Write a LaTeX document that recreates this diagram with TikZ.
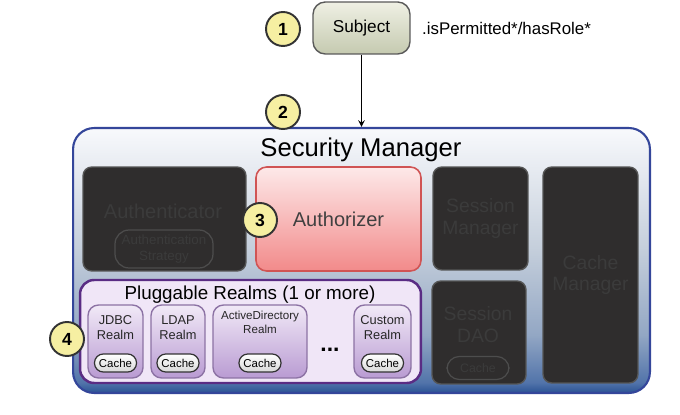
\documentclass[tikz,border=0pt]{standalone}
\usepackage{fontspec}
\setmainfont{Liberation Sans}
\usetikzlibrary{arrows}

\definecolor{numfill}{HTML}{F6EFA2}
\definecolor{smborder}{HTML}{34469A}
\definecolor{subjtop}{HTML}{EFF0E4}
\definecolor{subjbot}{HTML}{C5CAB0}
\definecolor{darkfill}{HTML}{2F2D2D}
\definecolor{darkline}{HTML}{555555}
\definecolor{darktext}{HTML}{3B3B3B}
\definecolor{pinktop}{HTML}{FDE9E9}
\definecolor{pinkbot}{HTML}{F28A8A}
\definecolor{pinkline}{HTML}{D05454}
\definecolor{panelfill}{HTML}{F0E6F7}
\definecolor{panelline}{HTML}{5A2C84}
\definecolor{realmtop}{HTML}{F1E9F7}
\definecolor{realmbot}{HTML}{B99BD2}
\definecolor{realmline}{HTML}{8C72A4}
\definecolor{smA}{HTML}{2A5294}
\definecolor{smB}{HTML}{5274AA}
\definecolor{smC}{HTML}{93A7C4}
\definecolor{smD}{HTML}{C4CEDB}
\definecolor{smE}{HTML}{F8F9FC}
\pgfdeclareverticalshading{smshade}{100bp}{color(0bp)=(smA); color(25bp)=(smA); color(27bp)=(smB); color(36bp)=(smC); color(52bp)=(smD); color(75bp)=(smE); color(100bp)=(smE)}

\begin{document}
\begin{tikzpicture}[x=0.02cm,y=-0.02cm,>=stealth,
  numcircle/.style={circle,draw=black!80,line width=1.1pt,fill=numfill,minimum size=0.68cm,inner sep=0pt,font=\fontsize{10}{12}\selectfont\bfseries},
  darkbox/.style={draw=darkline,line width=0.8pt,fill=darkfill,rounded corners=5pt,text=darktext,align=center,font=\fontsize{11}{12.5}\selectfont},
  realmbox/.style={draw=realmline,line width=0.8pt,top color=realmtop,bottom color=realmbot,rounded corners=6pt,minimum height=1.46cm},
  realmtxt/.style={align=center,inner sep=0pt,font=\fontsize{7.3}{8.6}\selectfont,text=black!85},
  cachepill/.style={draw=black!80,line width=0.7pt,top color=white,bottom color=black!15,rounded corners=5pt,minimum width=0.84cm,minimum height=0.36cm,inner sep=0pt,font=\fontsize{6.5}{7}\selectfont}]
\useasboundingbox (0,0) rectangle (680,415);

% subject and the call
\node[draw=black!65,line width=0.8pt,rounded corners=7pt,top color=subjtop,bottom color=subjbot,minimum width=1.94cm,minimum height=1.04cm,font=\fontsize{9.8}{11}\selectfont] (subj) at (361.5,28) {Subject};
\node[anchor=west,font=\fontsize{9.6}{11}\selectfont] (perm) at (416,28) {.isPermitted*/hasRole*};
\node[numcircle] (n1) at (283,29) {1};

% security manager
\node[draw=smborder,line width=1.2pt,rounded corners=12pt,shading=smshade,minimum width=11.54cm,minimum height=5.3cm] (sm) at (361.5,260.5) {};
\node[font=\fontsize{14.6}{16}\selectfont] (smtitle) at (361,150) {Security Manager};
\node[numcircle] (n2) at (283,112) {2};
\draw[->,line width=0.7pt] (subj) -- (sm);

% authenticator / authorizer
\node[darkbox,minimum width=3.26cm,minimum height=2.08cm] (authc) at (164.5,219) {};
\node[text=darktext,font=\fontsize{11.4}{12.5}\selectfont] (authclbl) at (163,211) {Authenticator};
\node[draw=darkline!80!darkfill,line width=0.7pt,rounded corners=8pt,minimum width=1.96cm,minimum height=0.76cm,align=center,text=darktext,inner sep=0pt,font=\fontsize{7.6}{8.8}\selectfont] (authcstrat) at (164,249) {Authentication\\Strategy};
\node[draw=pinkline,line width=0.9pt,rounded corners=6pt,top color=pinktop,bottom color=pinkbot,minimum width=3.3cm,minimum height=2.08cm,font=\fontsize{11.4}{12.5}\selectfont,text=black!75] (authz) at (338.5,219) {Authorizer};
\node[numcircle] (n3) at (260,220) {3};

% sessions and cache
\node[darkbox,minimum width=1.9cm,minimum height=2.06cm] (sessmgr) at (480.5,218.5) {Session\\Manager};
\node[darkbox,minimum width=1.9cm,minimum height=4.32cm] (cachemgr) at (590.5,275) {Cache\\Manager};
\node[darkbox,minimum width=1.88cm,minimum height=2.06cm] (sessdao) at (479,332.5) {};
\node[text=darktext,align=center,font=\fontsize{11}{12.5}\selectfont] (sessdaolbl) at (478,325) {Session\\DAO};
\node[draw=darkline!80!darkfill,line width=0.7pt,rounded corners=7pt,minimum width=1.24cm,minimum height=0.46cm,text=darktext,inner sep=0pt,font=\fontsize{7}{8}\selectfont] (daocache) at (478,368) {Cache};

% realms
\node[draw=panelline,line width=1.4pt,rounded corners=8pt,fill=panelfill,minimum width=6.82cm,minimum height=2.06cm] (realms) at (250.5,331.5) {};
\node[font=\fontsize{10.7}{12}\selectfont] (realmstitle) at (250,295) {Pluggable Realms (1 or more)};

\node[realmbox,minimum width=1.1cm] (jdbc) at (115.5,341.5) {};
\node[realmtxt] (jdbclbl) at (115.5,328) {JDBC\\Realm};
\node[cachepill] (jdbccache) at (115.5,363) {Cache};

\node[realmbox,minimum width=1.08cm] (ldap) at (178,341.5) {};
\node[realmtxt] (ldaplbl) at (178,328) {LDAP\\Realm};
\node[cachepill] (ldapcache) at (178,363) {Cache};

\node[realmbox,minimum width=1.88cm] (ad) at (260,341.5) {};
\node[realmtxt,font=\fontsize{6.6}{8}\selectfont] (adlbl) at (260,322) {ActiveDirectory\\Realm};
\node[cachepill] (adcache) at (260,363) {Cache};

\node[font=\fontsize{13}{13}\selectfont\bfseries] (dots) at (330,350) {...};

\node[realmbox,minimum width=1.14cm] (custom) at (382.5,341.5) {};
\node[realmtxt] (customlbl) at (382.5,328) {Custom\\Realm};
\node[cachepill] (customcache) at (382.5,363) {Cache};

\node[numcircle] (n4) at (67,339) {4};
\end{tikzpicture}
\end{document}
